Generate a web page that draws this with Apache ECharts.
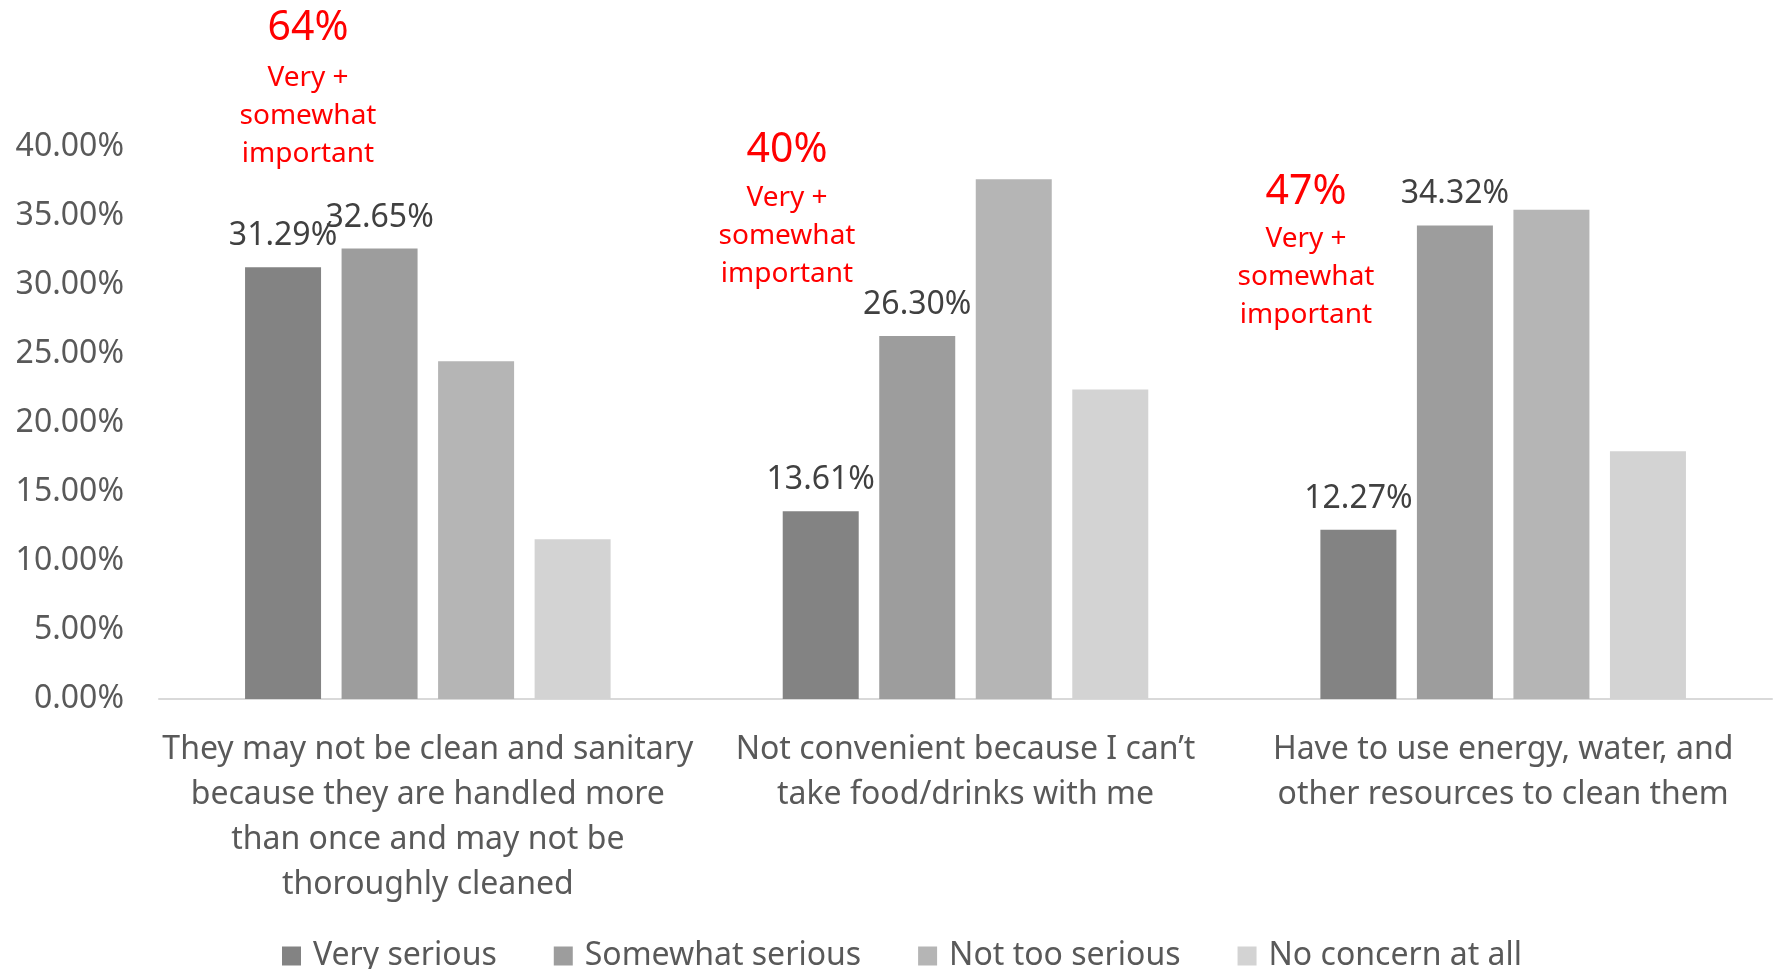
<!DOCTYPE html>
<html>
<head>
<meta charset="utf-8">
<script src="https://cdn.jsdelivr.net/npm/echarts@6/dist/echarts.min.js"></script>
<style>
html,body{margin:0;padding:0;background:#fff;}
#chart{width:1775px;height:969px;}
</style>
</head>
<body>
<div id="chart"></div>
<script>
const categories = [
  "They may not be clean and sanitary\nbecause they are handled more\nthan once and may not be\nthoroughly cleaned",
  "Not convenient because I can\u2019t\ntake food/drinks with me",
  "Have to use energy, water, and\nother resources to clean them"
];
const seriesNames = ["Very serious", "Somewhat serious", "Not too serious", "No concern at all"];
const verySerious = [31.29, 13.61, 12.27];
const somewhatSerious = [32.65, 26.30, 34.32];
const notTooSerious = [24.48, 37.67, 35.45];
const noConcern = [11.58, 22.42, 17.96];
const showLabels = [true, true, false, false];
const yTicks = { min: 0, max: 40, interval: 5 };
const annotationPct = ["64%", "40%", "47%"];
const annotationText = "Very +\nsomewhat\nimportant";

const colors = ["#838383", "#9d9d9d", "#b5b5b5", "#d3d3d3"];
const FONT = "'Noto Sans', 'Open Sans', sans-serif";
const seriesData = [verySerious, somewhatSerious, notTooSerious, noConcern];

const chart = echarts.init(document.getElementById('chart'));

// annotation positions (text placement only)
const annPos = [
  { x: 308, y: 28, ty: 59 },
  { x: 787, y: 150, ty: 179 },
  { x: 1306, y: 192, ty: 220 }
];
const graphics = [];
annotationPct.forEach((p, i) => {
  graphics.push({
    type: 'text', x: annPos[i].x, y: annPos[i].y,
    style: { text: p, fill: '#ff0000', font: '41px ' + FONT, align: 'center', verticalAlign: 'middle' }
  });
  graphics.push({
    type: 'text', x: annPos[i].x, y: annPos[i].ty,
    style: { text: annotationText, fill: '#ff0000', font: '28px ' + FONT, align: 'center', verticalAlign: 'top', lineHeight: 38 }
  });
});

chart.setOption({
  animation: false,
  backgroundColor: '#ffffff',
  textStyle: { fontFamily: FONT },
  grid: { left: 159, right: 3, top: 147, bottom: 270, containLabel: false },
  legend: {
    data: seriesNames,
    left: 277, top: 935,
    itemWidth: 19, itemHeight: 19, itemGap: 57,
    icon: 'rect',
    textStyle: { fontSize: 32, color: '#595959', fontFamily: FONT, padding: [0, 0, 0, 7] }
  },
  xAxis: {
    type: 'category',
    data: categories,
    axisLine: { lineStyle: { color: '#d9d9d9', width: 2 } },
    axisTick: { show: false },
    axisLabel: { interval: 0, fontSize: 32, color: '#595959', lineHeight: 45, margin: 28, fontFamily: FONT }
  },
  yAxis: {
    type: 'value',
    min: yTicks.min, max: yTicks.max, interval: yTicks.interval,
    splitLine: { show: false },
    axisLine: { show: false },
    axisTick: { show: false },
    axisLabel: { fontSize: 32, color: '#595959', margin: 35, fontFamily: FONT, padding: [6, 0, 0, 0],
      formatter: v => v.toFixed(2) + '%' }
  },
  series: seriesNames.map((name, i) => ({
    name: name,
    type: 'bar',
    data: seriesData[i],
    barWidth: 76,
    barGap: '27%',
    itemStyle: { color: colors[i] },
    label: {
      show: showLabels[i],
      position: 'top',
      distance: 15,
      fontSize: 32,
      color: '#404040',
      fontFamily: FONT,
      formatter: p => p.value.toFixed(2) + '%'
    }
  })),
  graphic: graphics
});
</script>
</body>
</html>
